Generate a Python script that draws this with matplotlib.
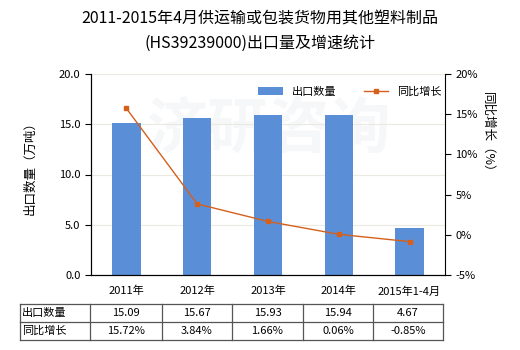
import matplotlib.pyplot as plt
from matplotlib.lines import Line2D
import numpy as np

plt.rcParams['font.family'] = ['Noto Sans CJK SC', 'DejaVu Sans']

years = ['2011年', '2012年', '2013年', '2014年', '2015年1-4月']
volume = [15.09, 15.67, 15.93, 15.94, 4.67]
growth = [15.72, 3.84, 1.66, 0.06, -0.85]
row_names = ['出口数量', '同比增长']

bar_color = '#5a8fd8'
line_color = '#d5601c'
W, H = 520, 350

fig = plt.figure(figsize=(5.2, 3.5), dpi=100)
ax = fig.add_axes([91 / W, 1 - 275 / H, 354 / W, 201 / H])
ax2 = ax.twinx()

x = np.arange(len(years))
ax.bar(x, volume, width=0.4, color=bar_color, zorder=2, label='出口数量')
ax.set_xlim(-0.5, len(years) - 0.5)
ax.set_ylim(0, 20)
ax.set_yticks([0, 5, 10, 15, 20])
ax.set_yticklabels(['%.1f' % v for v in [0, 5, 10, 15, 20]], fontsize=8)
ax.yaxis.grid(True, color='#ece9e0', lw=0.8, zorder=0)
ax.set_xticks(x)
ax.set_xticklabels(years, fontsize=8)
ax.tick_params(axis='x', length=0, pad=8)
ax.tick_params(axis='y', length=4, width=0.8)
ax.spines['top'].set_visible(False)
ax2.spines['top'].set_visible(False)
ax.spines['right'].set_visible(False)

ax2.plot(x, growth, color=line_color, lw=1, marker='s', ms=3, zorder=3, label='同比增长')
ax2.set_ylim(-5, 20)
ax2.set_yticks([-5, 0, 5, 10, 15, 20])
ax2.set_yticklabels(['%d%%' % v for v in [-5, 0, 5, 10, 15, 20]], fontsize=8)
ax2.tick_params(axis='y', length=4, width=0.8)

# axis titles
fig.text(30 / W, 1 - 165 / H, '出口数量（万吨）', rotation=90, ha='center', va='center', fontsize=9)
fig.text(488 / W, 1 - 135 / H, '同比增长（%）', rotation=-90, ha='center', va='center', fontsize=9)

# faint watermark
ax.text(0.5, 0.72, '济研咨询', transform=ax.transAxes, fontsize=44, color='#f6f7f9',
        ha='center', va='center', zorder=1, fontweight='bold')

h1, l1 = ax.get_legend_handles_labels()
h2, l2 = ax2.get_legend_handles_labels()
fig.legend(h1 + h2, l1 + l2, loc='center', bbox_to_anchor=(350 / W, 1 - 92 / H),
           ncol=2, frameon=False, fontsize=8, handlelength=2.2, columnspacing=2.5)

fig.text(0.5, 1 - 18 / H, '2011-2015年4月供运输或包装货物用其他塑料制品',
         ha='center', va='center', fontsize=11.5)
fig.text(0.5, 1 - 43 / H, '(HS39239000)出口量及增速统计',
         ha='center', va='center', fontsize=11.5)

# data table under the chart
col_x = [20, 90, 162, 232, 303, 373, 443]
row_y = [304, 322, 340]
edge = '#555555'
for yy in row_y:
    fig.add_artist(Line2D([col_x[0] / W, col_x[-1] / W], [1 - yy / H, 1 - yy / H],
                          color=edge, lw=0.9))
for xx in col_x:
    fig.add_artist(Line2D([xx / W, xx / W], [1 - row_y[0] / H, 1 - row_y[-1] / H],
                          color=edge, lw=0.9))
rows = [['%.2f' % v for v in volume], ['%.2f%%' % v for v in growth]]
for r, name in enumerate(row_names):
    yc = 1 - (row_y[r] + row_y[r + 1]) / 2 / H
    fig.text((col_x[0] + 2) / W, yc, name, ha='left', va='center', fontsize=8)
    for c, val in enumerate(rows[r]):
        xc = (col_x[c + 1] + col_x[c + 2]) / 2 / W
        fig.text(xc, yc, val, ha='center', va='center', fontsize=8)

fig.savefig('out.png', dpi=100)
